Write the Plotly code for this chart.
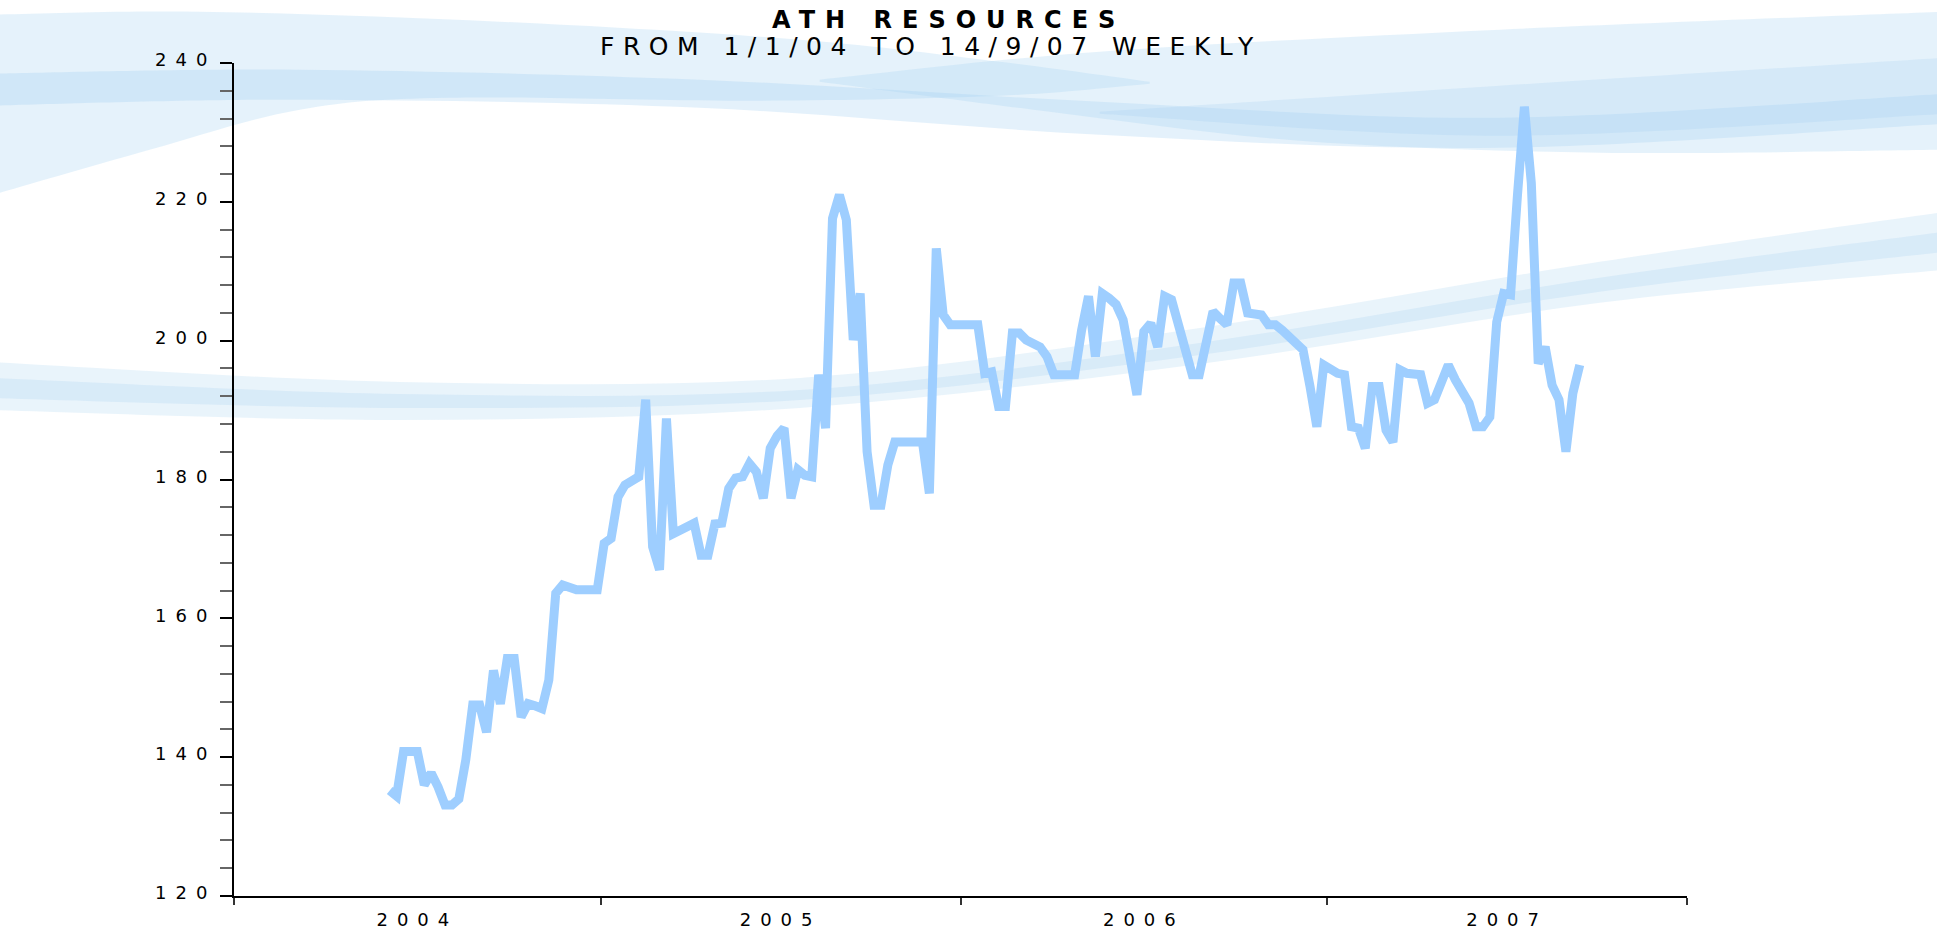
import numpy as np
import plotly.graph_objects as go

# ---------------- data ----------------
years = ["2004", "2005", "2006", "2007"]
obs_per_year = [53, 52, 53, 52]          # weekly observations per year on the axis
first_obs = 22                            # first observation with a price
y_major = [120, 140, 160, 180, 200, 220, 240]

price = [
    135.2, 134.4, 140.8, 140.8, 140.8, 136.0, 137.7, 135.7, 133.1, 133.1,
    134.0, 139.6, 147.5, 147.5, 143.6, 152.5, 147.7, 154.2, 154.2, 145.8,
    147.7, 147.4, 147.0, 151.1, 163.6, 164.8, 164.4, 164.1, 164.1, 164.1,
    164.1, 170.8, 171.5, 177.5, 179.2, 179.8, 180.4, 191.5, 170.3, 167.0,
    188.8, 172.2, 172.7, 173.2, 173.7, 169.1, 169.1, 173.6, 173.7, 178.7,
    180.2, 180.4, 182.3, 181.1, 177.3, 184.5, 186.3, 187.4, 177.3, 181.4,
    180.6, 180.4, 195.1, 187.4, 217.6, 221.0, 217.4, 200.1, 206.8, 184.0,
    176.3, 176.3, 182.1, 185.4, 185.4, 185.4, 185.4, 185.4, 178.0, 213.3,
    203.7, 202.3, 202.3, 202.3, 202.3, 202.3, 195.3, 195.5, 190.5, 190.5,
    201.1, 201.1, 200.1, 199.5, 199.1, 197.7, 195.1, 195.1, 195.1, 195.1,
    201.5, 206.4, 197.7, 206.8, 206.1, 205.2, 203.0, 196.7, 192.2, 201.3,
    202.5, 199.1, 206.4, 205.9, 202.0, 197.7, 195.1, 195.1, 199.6, 204.2,
    203.2, 202.3, 208.3, 208.3, 204.0, 203.9, 203.7, 202.3, 202.3, 201.5,
    200.6, 199.6, 198.7, 193.5, 187.6, 196.5, 195.9, 195.3, 195.1, 187.6,
    187.4, 184.5, 193.4, 193.4, 187.1, 185.4, 195.8, 195.3, 195.2, 195.1,
    191.0, 191.5, 194.0, 196.5, 194.4, 192.4, 191.0, 187.6, 187.6, 189.0,
    202.7, 206.8, 206.6, 221.0, 233.7, 222.7, 196.7, 199.1, 193.6, 191.5,
    184.0, 192.4, 196.5,
]

# ---------------- geometry / style ----------------
W, H = 1937, 935
# plot-area edges in page pixels
L, R, T, B = 234.3, 1687.3, 63.3, 895.7
FONT = "DejaVu Sans, Verdana, sans-serif"
LINE_COLOR = "#9ECEFF"

bounds = np.concatenate([[0], np.cumsum(obs_per_year)])
centers = (bounds[:-1] + bounds[1:]) / 2.0
x = first_obs + 0.5 + np.arange(len(price))


def spaced(s, sp):
    return f'<span style="letter-spacing:{sp}px">{s}</span>'


def px(X):
    return (X - L) / (R - L)


def py(Y):
    return (B - Y) / (B - T)


def catmull(pts):
    out = ""
    n = len(pts)
    for i in range(n - 1):
        p0 = np.array(pts[i - 1] if i > 0 else pts[i], float)
        p1 = np.array(pts[i], float)
        p2 = np.array(pts[i + 1], float)
        p3 = np.array(pts[i + 2] if i + 2 < n else pts[i + 1], float)
        c1 = p1 + (p2 - p0) / 6.0
        c2 = p2 - (p3 - p1) / 6.0
        out += (f" C {px(c1[0]):.5f},{py(c1[1]):.5f} {px(c2[0]):.5f},{py(c2[1]):.5f}"
                f" {px(p2[0]):.5f},{py(p2[1]):.5f}")
    return out


def band(top, bottom):
    p = f"M {px(top[0][0]):.5f},{py(top[0][1]):.5f}" + catmull(top)
    p += f" L {px(bottom[0][0]):.5f},{py(bottom[0][1]):.5f}" + catmull(bottom) + " Z"
    return p


# decorative background swooshes (page pixel coordinates)
swooshes = [
    # top-left light area, tapering to the right
    ([(-10, 15), (200, 12), (500, 22), (800, 40), (1000, 62), (1150, 82)],
     [(1150, 84), (1000, 96), (750, 101), (450, 98), (300, 110), (150, 150), (-10, 196)],
     "rgba(170,212,242,0.30)"),
    # stripe across the top
    ([(-10, 74), (300, 70), (700, 80), (1100, 102), (1500, 118), (1945, 94)],
     [(1945, 124), (1500, 148), (1100, 135), (700, 108), (300, 100), (-10, 106)],
     "rgba(150,200,240,0.26)"),
    # top-right area
    ([(820, 80), (1100, 52), (1500, 30), (1945, 12)],
     [(1945, 150), (1600, 153), (1300, 141), (1050, 112), (820, 82)],
     "rgba(170,212,242,0.30)"),
    # darker core at top right, tapered
    ([(1100, 112), (1500, 86), (1945, 58)],
     [(1945, 114), (1500, 136), (1100, 114)],
     "rgba(150,200,240,0.20)"),
    # wide faint mid band
    ([(-10, 362), (400, 382), (800, 378), (1200, 328), (1600, 262), (1945, 212)],
     [(1945, 270), (1600, 303), (1200, 364), (800, 408), (400, 420), (-10, 410)],
     "rgba(175,215,242,0.28)"),
    # mid band core
    ([(-10, 378), (400, 394), (800, 390), (1200, 343), (1600, 278), (1945, 232)],
     [(1945, 252), (1600, 292), (1200, 355), (800, 400), (400, 408), (-10, 398)],
     "rgba(150,200,240,0.20)"),
]

shapes = [
    dict(type="path", xref="paper", yref="paper", path=band(t, b),
         fillcolor=c, line=dict(width=0), layer="below")
    for t, b, c in swooshes
]

fig = go.Figure()
fig.add_trace(go.Scatter(
    x=x, y=price, mode="lines", xaxis="x", yaxis="y",
    line=dict(color=LINE_COLOR, width=9), hoverinfo="skip", showlegend=False,
))
fig.add_trace(go.Scatter(
    x=[None], y=[None], mode="lines", xaxis="x2", yaxis="y",
    hoverinfo="skip", showlegend=False,
))

fig.update_layout(
    width=W, height=H,
    margin=dict(l=L, r=W - R, t=T, b=H - B, pad=0, autoexpand=False),
    paper_bgcolor="white",
    plot_bgcolor="rgba(0,0,0,0)",
    showlegend=False,
    hovermode=False,
    font=dict(family=FONT, color="black"),
    xaxis=dict(
        range=[0, bounds[-1]], tickmode="array", tickvals=list(bounds),
        ticktext=[""] * len(bounds), ticks="outside", ticklen=7, tickwidth=1.5,
        tickcolor="#333", showline=True, linecolor="black", linewidth=2,
        showgrid=False, zeroline=False, fixedrange=True, automargin=False,
    ),
    xaxis2=dict(
        overlaying="x", anchor="y", side="bottom", range=[0, bounds[-1]],
        tickmode="array", tickvals=list(centers),
        ticktext=[spaced(yv, 9) for yv in years], ticks="",
        showline=False, showgrid=False, zeroline=False, fixedrange=True,
        automargin=False,
        tickfont=dict(family=FONT, size=18, color="black"), ticklabelstandoff=11,
    ),
    yaxis=dict(
        range=[120, 240], tickmode="array", tickvals=y_major,
        ticktext=[spaced(str(v), 9) for v in y_major],
        ticks="outside", ticklen=12, tickwidth=1.5, tickcolor="black",
        minor=dict(dtick=4, tick0=120, ticks="outside", ticklen=12,
                   tickwidth=1.5, tickcolor="#666"),
        showline=True, linecolor="black", linewidth=2,
        showgrid=False, zeroline=False, fixedrange=True, automargin=False,
        tickfont=dict(family=FONT, size=18, color="black"),
        ticklabelstandoff=0, ticklabelshift=-3,
    ),
    shapes=shapes,
    annotations=[
        dict(text=spaced("<b>ATH RESOURCES</b>", 10), xref="paper", yref="paper",
             x=px(949), y=py(20.5), xanchor="center", yanchor="middle",
             showarrow=False, font=dict(family=FONT, size=24, color="black")),
        dict(text=spaced("FROM 1/1/04 TO 14/9/07 WEEKLY", 8.5), xref="paper", yref="paper",
             x=px(931), y=py(46.5), xanchor="center", yanchor="middle",
             showarrow=False, font=dict(family=FONT, size=25, color="black")),
    ],
)

fig.write_html(
    "out.html",
    config={"displayModeBar": False},
    post_script="document.body.style.margin='0';document.body.style.overflow='hidden';",
)
